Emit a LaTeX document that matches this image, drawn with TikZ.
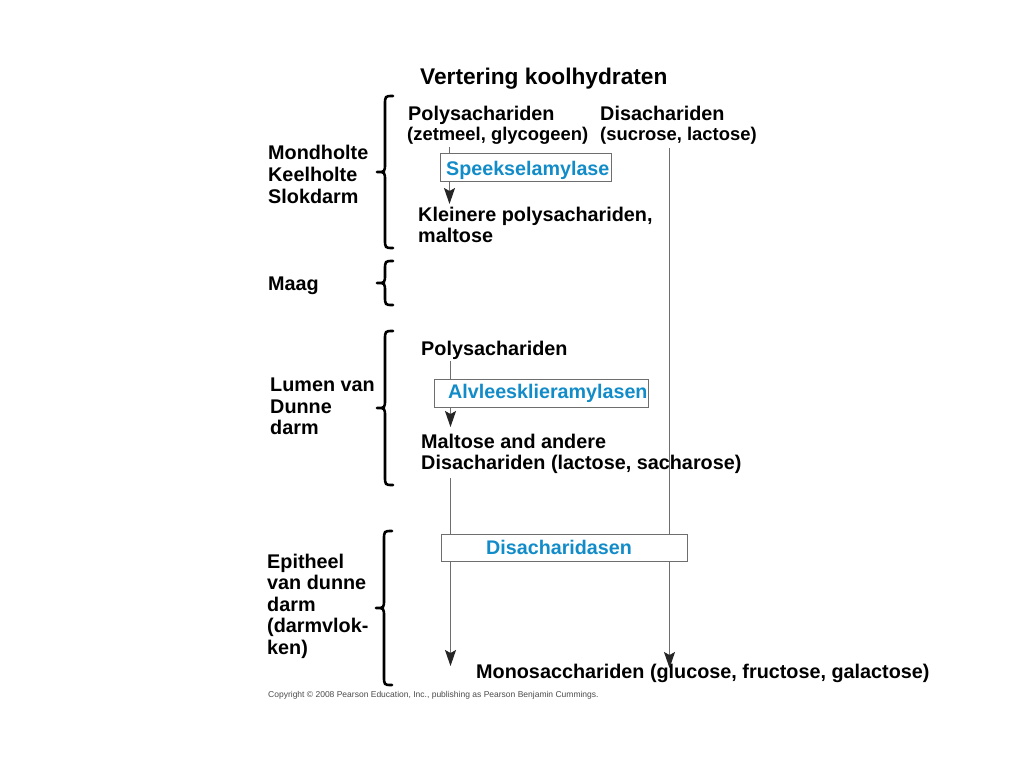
\documentclass[tikz,border=0pt]{standalone}
\usepackage{fontspec}
\setmainfont{Liberation Sans}
\usetikzlibrary{arrows.meta}
\definecolor{enzblue}{RGB}{18,140,200}
\definecolor{lgrey}{RGB}{110,110,110}
\newcommand\mybrace[3]{%
  \draw[bracestyle] ({#1+8},#2) .. controls (#1,#2) .. (#1,{#2+9})
    -- (#1,{(#2+#3)/2-9}) .. controls (#1,{(#2+#3)/2}) .. ({#1-8},{(#2+#3)/2})
    .. controls (#1,{(#2+#3)/2}) .. (#1,{(#2+#3)/2+9})
    -- (#1,{#3-9}) .. controls (#1,#3) .. ({#1+8},#3);}
\begin{document}
\begin{tikzpicture}[x=1pt,y=-1pt,
  txt/.style={font=\fontsize{19.8}{22}\selectfont\bfseries, inner sep=0pt, anchor=base west},
  small/.style={font=\fontsize{18.4}{20}\selectfont\bfseries, inner sep=0pt, anchor=base west},
  enz/.style={draw=lgrey, line width=1.1pt, inner sep=0pt},
  enztxt/.style={text=enzblue, font=\fontsize{19.7}{22}\selectfont\bfseries, inner sep=0pt, anchor=base west},
  flow/.style={draw=lgrey, line width=1.1pt},
  flowarr/.style={flow, -{Stealth[length=16pt,width=11pt,inset=3pt,color=black!85]}},
  bracestyle/.style={line width=2.6pt, line cap=round, line join=round}]
\useasboundingbox[fill=white] (0,0) rectangle (1024,768);

% title
\node[txt, font=\fontsize{22.7}{25}\selectfont\bfseries] (title) at (420,84) {Vertering koolhydraten};

% top sources
\node[txt] (poly1) at (408,120.5) {Polysachariden};
\node[small] (poly1b) at (407,140) {(zetmeel, glycogeen)};
\node[txt] (di1) at (600,120.5) {Disachariden};
\node[small] (di1b) at (600,140) {(sucrose, lactose)};

% enzyme boxes
\node[enz, minimum width=171pt, minimum height=28pt, anchor=north west] (speek) at (439.5,153) {};
\node[enztxt] (speekt) at (446,175) {Speekselamylase};

\node[txt] (klein) at (418,221) {Kleinere polysachariden,};
\node[txt] (klein2) at (418,242.5) {maltose};

% section labels
\node[txt] (mond) at (268,159) {Mondholte};
\node[txt] (keel) at (268,181) {Keelholte};
\node[txt] (slok) at (268,203) {Slokdarm};
\node[txt] (maag) at (268,290) {Maag};
\node[txt] (lum1) at (270,391.5) {Lumen van};
\node[txt] (lum2) at (270,413) {Dunne};
\node[txt] (lum3) at (270,434.5) {darm};
\node[txt] (ep1) at (267,568) {Epitheel};
\node[txt] (ep2) at (267,589.5) {van dunne};
\node[txt] (ep3) at (267,611) {darm};
\node[txt] (ep4) at (267,632.5) {(darmvlok-};
\node[txt] (ep5) at (267,654) {ken)};

% second section
\node[txt] (poly2) at (421,355.5) {Polysachariden};
\node[enz, minimum width=214pt, minimum height=28pt, anchor=north west] (alv) at (433.5,378.5) {};
\node[enztxt] (alvt) at (448,398.5) {Alvleesklieramylasen};
\node[txt] (malt1) at (421,448) {Maltose and andere};
\node[txt] (malt2) at (421,469.5) {Disachariden (lactose, sacharose)};

% disacharidasen
\node[enz, minimum width=246pt, minimum height=27pt, anchor=north west] (disa) at (441,534) {};
\node[enztxt] (disat) at (486,554.5) {Disacharidasen};

\node[txt] (mono) at (476,678) {Monosacchariden (glucose, fructose, galactose)};

% coordinates for flow lines
\coordinate (L1) at (449.5,147);
\coordinate (L2) at (450.5,361);
\coordinate (L3) at (450.5,478);
\coordinate (R1) at (669.5,148);
\coordinate (Lend) at (450.5,666);
\coordinate (Rend) at (669.5,668);

% flow lines
\draw[flow] (L1) -- (L1 |- speek.north);
\draw[flowarr] (L1 |- speek.south) -- (449.5,204);
\draw[flow] (L2) -- (L2 |- alv.north);
\draw[flowarr] (L2 |- alv.south) -- (450.5,427);
\draw[flow] (L3) -- (L3 |- disa.north);
\draw[flowarr] (L3 |- disa.south) -- (Lend);
\draw[flow] (R1) -- (R1 |- disa.north);
\draw[flowarr] (R1 |- disa.south) -- (Rend);

% braces
\mybrace{385}{96}{248}
\mybrace{385}{261}{305}
\mybrace{385}{331}{485}
\mybrace{384}{531}{685}

% copyright
\node[inner sep=0pt, anchor=base west, text=black!70, font=\fontsize{8.5}{10}\selectfont] (copy) at (268,697)
  {Copyright \textcopyright{} 2008 Pearson Education, Inc., publishing as Pearson Benjamin Cummings.};
\end{tikzpicture}
\end{document}
